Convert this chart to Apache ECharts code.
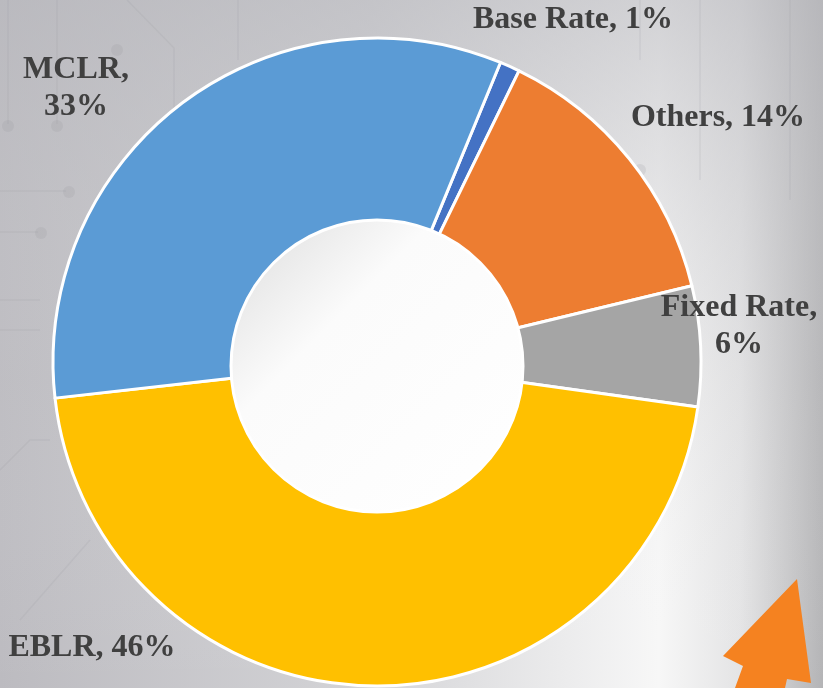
<!DOCTYPE html>
<html>
<head>
<meta charset="utf-8">
<script src="https://cdn.jsdelivr.net/npm/echarts@6/dist/echarts.min.js"></script>
<style>
    html, body { margin: 0; padding: 0; }
    #chart { width: 823px; height: 688px; }
</style>
</head>
<body>
<div id="chart"></div>
<script>
// loan share by benchmark (%)
const categories = ['Base Rate', 'Others', 'Fixed Rate', 'EBLR', 'MCLR'];
const shares = [1, 14, 6, 46, 33];
const sliceColors = ['#4472C4', '#ED7D31', '#A5A5A5', '#FFC000', '#5B9BD5'];
// labels that break after the comma
const wrapped = ['MCLR', 'Fixed Rate'];
// where each label sits (label centre, px)
const labelSpots = {
    'Base Rate': [573, 20],
    'Others': [718, 118],
    'Fixed Rate': [739, 326],
    'EBLR': [92, 648],
    'MCLR': [76, 88]
};

const myChart = echarts.init(document.getElementById('chart'));

// faint circuit lines in the background
const circuit = [
    [[8, 0], [8, 124]],
    [[57, 0], [57, 124]],
    [[0, 191], [66, 191]],
    [[0, 232], [38, 232]],
    [[127, 0], [174, 48], [174, 215]],
    [[0, 300], [40, 300]],
    [[0, 330], [40, 330]],
    [[0, 470], [30, 440], [50, 440]],
    [[20, 620], [90, 540]],
    [[238, 0], [238, 60]],
    [[640, 0], [640, 60]],
    [[700, 0], [700, 180]],
    [[790, 0], [790, 200]]
];
const dots = [[8, 126], [57, 126], [69, 192], [41, 233], [117, 50], [640, 170]];

const decor = [
    {
        type: 'rect', z: -10, silent: true,
        shape: { x: 0, y: 0, width: 823, height: 688 },
        style: {
            fill: new echarts.graphic.LinearGradient(0, 0, 1, 0, [
                { offset: 0, color: '#bcbbc0' },
                { offset: 0.45, color: '#d4d4d7' },
                { offset: 0.8, color: '#f7f7f7' },
                { offset: 0.9, color: '#e4e4e5' },
                { offset: 1, color: '#b4b4b6' }
            ])
        }
    },
    {
        type: 'rect', z: -9, silent: true,
        shape: { x: 0, y: 0, width: 823, height: 688 },
        style: {
            fill: new echarts.graphic.LinearGradient(0, 0, 0, 1, [
                { offset: 0, color: 'rgba(185,185,190,0.6)' },
                { offset: 0.55, color: 'rgba(205,205,208,0.15)' },
                { offset: 1, color: 'rgba(255,255,255,0)' }
            ])
        }
    }
];
circuit.forEach(function (pts) {
    decor.push({
        type: 'polyline', z: -8, silent: true,
        shape: { points: pts },
        style: { stroke: 'rgba(150,150,156,0.15)', lineWidth: 1.5, fill: null }
    });
});
dots.forEach(function (d) {
    decor.push({
        type: 'circle', z: -8, silent: true,
        shape: { cx: d[0], cy: d[1], r: 6 },
        style: { fill: 'rgba(150,150,156,0.18)' }
    });
});
// white hub in the middle
decor.push({
    type: 'circle', z: 100, silent: true,
    shape: { cx: 377, cy: 366, r: 146 },
    style: {
        fill: new echarts.graphic.LinearGradient(0, 0, 1, 1, [
            { offset: 0, color: '#dcdcdc' },
            { offset: 0.35, color: '#fbfbfb' },
            { offset: 1, color: '#ffffff' }
        ]),
        stroke: '#ffffff',
        lineWidth: 3
    }
});
// orange arrow, bottom right
decor.push({
    type: 'polygon', z: 100, silent: true,
    shape: {
        points: [[797, 579], [811, 683], [787, 679], [785, 688], [735, 688], [743, 666], [723, 656]]
    },
    style: { fill: '#F58220' }
});

const option = {
    backgroundColor: '#cfcfd2',
    animation: false,
    graphic: decor,
    series: [
        {
            type: 'pie',
            center: [377, 362],
            radius: [140, 324],
            startAngle: 67.6,
            clockwise: true,
            itemStyle: {
                borderColor: '#ffffff',
                borderWidth: 3
            },
            label: {
                show: true,
                position: 'outside',
                overflow: 'none',
                color: '#404040',
                fontFamily: 'Liberation Serif',
                fontWeight: 'bold',
                fontSize: 32,
                lineHeight: 37,
                align: 'center',
                formatter: function (p) {
                    const sep = wrapped.indexOf(p.name) >= 0 ? ',\n' : ', ';
                    return p.name + sep + p.value + '%';
                }
            },
            labelLine: { show: false },
            labelLayout: function (params) {
                const spot = labelSpots[categories[params.dataIndex]];
                return {
                    x: spot[0],
                    y: spot[1],
                    align: 'center',
                    verticalAlign: 'middle',
                    hideOverlap: false
                };
            },
            data: categories.map(function (name, i) {
                return { name: name, value: shares[i], itemStyle: { color: sliceColors[i] } };
            })
        }
    ]
};
myChart.setOption(option);
</script>
</body>
</html>
